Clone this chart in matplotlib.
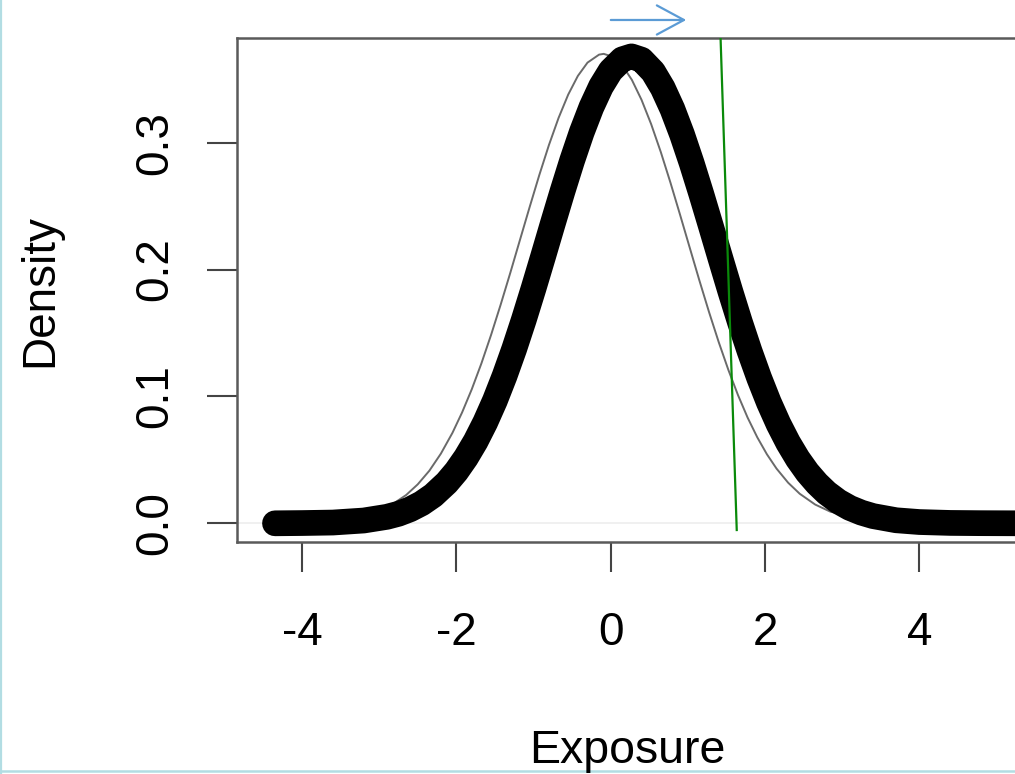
import matplotlib
matplotlib.use("Agg")
import matplotlib.pyplot as plt
from matplotlib.lines import Line2D

plt.rcParams['font.family'] = ['Liberation Sans', 'DejaVu Sans']

# Estimated density of the exposure (thick curve)
dens_x = [-4.35, -4.0, -3.6, -3.2, -2.9, -2.75, -2.6, -2.45, -2.3, -2.125, -2.0, -1.875,
          -1.75, -1.625, -1.5, -1.375, -1.25, -1.125, -1.0, -0.875, -0.75, -0.625, -0.5, -0.375,
          -0.25, -0.125, 0.0, 0.15, 0.27, 0.4, 0.55, 0.675, 0.8, 0.925, 1.05, 1.175,
          1.3, 1.425, 1.55, 1.675, 1.8, 1.925, 2.05, 2.175, 2.3, 2.425, 2.55, 2.675,
          2.8, 2.95, 3.1, 3.25, 3.4, 3.7, 4.0, 4.4, 4.8, 5.3]
dens_y = [0.0000, 0.0002, 0.0006, 0.0022, 0.0051, 0.0075, 0.0110, 0.0157, 0.0220, 0.0319, 0.0409, 0.0518,
          0.0646, 0.0796, 0.0967, 0.1161, 0.1374, 0.1605, 0.1850, 0.2104, 0.2362, 0.2615, 0.2858, 0.3082,
          0.3279, 0.3443, 0.3567, 0.3657, 0.3680, 0.3654, 0.3559, 0.3431, 0.3265, 0.3065, 0.2839, 0.2595,
          0.2341, 0.2084, 0.1830, 0.1586, 0.1357, 0.1145, 0.0953, 0.0783, 0.0635, 0.0508, 0.0401, 0.0313,
          0.0240, 0.0172, 0.0121, 0.0084, 0.0057, 0.0024, 0.0010, 0.0003, 0.0001, 0.0000]

# Reference normal curve (thin grey)
norm_x = [-4.45, -3.65, -3.05, -2.85, -2.65, -2.5, -2.35, -2.2, -2.05, -1.925, -1.8, -1.675,
          -1.55, -1.425, -1.3, -1.175, -1.05, -0.925, -0.8, -0.675, -0.55, -0.425, -0.3, -0.15,
          -0.09, 0.03, 0.15, 0.275, 0.4, 0.525, 0.65, 0.775, 0.9, 1.025, 1.15, 1.275,
          1.4, 1.525, 1.65, 1.775, 1.9, 2.025, 2.15, 2.3, 2.45, 2.65, 2.85, 3.45,
          4.25, 5.25]
norm_y = [0.0001, 0.0016, 0.0087, 0.0141, 0.0223, 0.0307, 0.0414, 0.0549, 0.0713, 0.0874, 0.1056, 0.1260,
          0.1484, 0.1724, 0.1975, 0.2234, 0.2492, 0.2744, 0.2981, 0.3195, 0.3379, 0.3526, 0.3631, 0.3694,
          0.3700, 0.3677, 0.3610, 0.3495, 0.3338, 0.3146, 0.2926, 0.2685, 0.2431, 0.2172, 0.1914, 0.1665,
          0.1429, 0.1210, 0.1011, 0.0833, 0.0678, 0.0544, 0.0431, 0.0320, 0.0233, 0.0148, 0.0091, 0.0017,
          0.0001, 0.0000]

# Green reference line endpoints
green_x = [1.424, 1.634]
green_y = [0.3833, -0.0053]

# Blue arrow above the plot
arrow_start = (-0.034, 0.3967)
arrow_end = (1.016, 0.3967)

xticks = [-4, -2, 0, 2, 4]
yticks = [0.0, 0.1, 0.2, 0.3]

fig = plt.figure(figsize=(10.15, 7.74), dpi=100)
W, H = 1015, 774
left, right, top, bottom = 236.7, 1016, 38, 541.7
ax = fig.add_axes([left / W, 1 - bottom / H, (right - left) / W, (bottom - top) / H])

ax.set_xlim(-4.846, 5.253)
ax.set_ylim(-0.0145, 0.3825)

ax.axhline(0, color='#eeeeee', lw=1.2, zorder=1)
ax.plot(norm_x, norm_y, color='#6a6a6a', lw=1.4, zorder=2)
ax.plot(dens_x, dens_y, color='black', lw=18.5, solid_capstyle='round',
        solid_joinstyle='round', zorder=3)
ax.plot(green_x, green_y, color='#0a8a0a', lw=1.6, zorder=4)

ax.annotate('', xy=arrow_end, xytext=arrow_start, xycoords='data',
            annotation_clip=False,
            arrowprops=dict(arrowstyle='->, head_length=1.3, head_width=0.7',
                            mutation_scale=15, color='#5b9bd5', lw=1.6))

for s in ax.spines.values():
    s.set_color('#5a5a5a')
    s.set_linewidth(1.8)

ax.set_xticks(xticks)
ax.set_xticklabels([str(t) for t in xticks])
ax.set_yticks(yticks)
ax.set_yticklabels([f"{t:.1f}" for t in yticks], rotation=90, va='center')
ax.tick_params(axis='both', direction='out', length=21.6, width=1.5,
               color='#444444', labelsize=33)
ax.tick_params(axis='x', pad=28)
ax.tick_params(axis='y', pad=21)

fig.text(627 / W, 1 - 763 / H, 'Exposure', fontsize=33.5, ha='center', va='baseline')
fig.text(52.3 / W, 1 - 290 / H, 'Density', fontsize=33, rotation=90,
         rotation_mode='anchor', ha='center', va='baseline')

# thin cyan frame on the left and bottom edges
fig.add_artist(Line2D([0.8 / W, 0.8 / W], [0, 1], color='#b2dde3', lw=1.6))
fig.add_artist(Line2D([0, 1], [3.2 / H, 3.2 / H], color='#b2dde3', lw=1.8))

fig.savefig('out.png', dpi=100)
